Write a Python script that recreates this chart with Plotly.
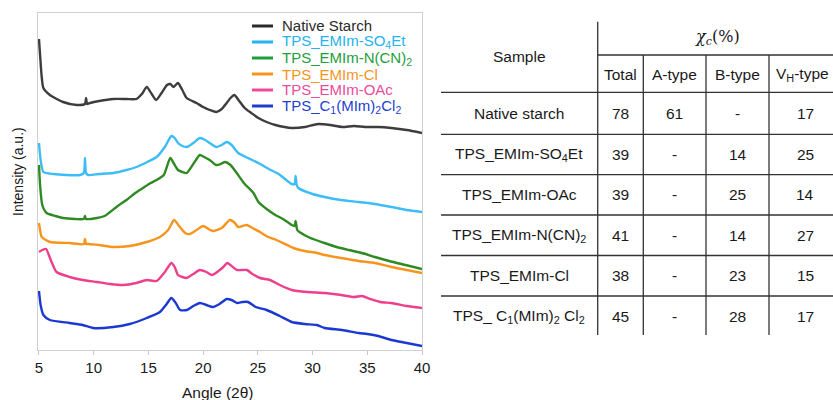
import plotly.graph_objects as go

W, H = 833, 400

# ---------------- XRD data (angle 2θ, intensity a.u. with vertical offsets) ----------------
ns_x = [5.0, 5.1, 5.25, 5.4, 6.0, 7.2, 8.45, 9.2, 9.3, 9.4, 9.66, 10.5, 11.8, 13.0, 13.9, 14.4, 14.85, 15.3, 15.7, 16.2,
        16.7, 17.0, 17.3, 17.7, 18.1, 18.5, 19.4, 20.0, 20.6, 21.2, 21.7, 22.15, 22.5, 22.85, 23.3, 23.8, 24.4, 25.05,
        25.8, 26.6, 28.1, 29.3, 30.5, 31.6, 32.7, 33.8, 34.8, 36.0, 37.2, 38.6, 40.0]
ns_y = [311, 295, 273, 262, 255, 248, 245, 246, 252, 246, 247, 249, 251, 251, 251, 256, 263, 256, 250, 257,
        265, 266, 263, 267, 260, 252, 247, 243, 240, 238, 241, 247, 252, 255, 249, 242, 237, 232,
        228, 225, 222, 223, 226, 225, 223, 224, 223, 223, 222, 220, 217]

so4_x = [5.0, 5.15, 5.4, 6.3, 7.5, 8.75, 9.1, 9.2, 9.3, 9.5, 10.5, 11.8, 13.0, 13.9, 14.9, 15.75, 16.5, 17.1, 17.4,
         17.7, 18.1, 18.5, 19.1, 19.7, 20.2, 20.6, 21.2, 21.7, 22.15, 22.6, 23.2, 24.1, 25.05, 26.0, 26.9, 28.1,
         28.35, 28.45, 28.55, 28.7, 30.0, 31.1, 32.6, 34.2, 35.7, 37.2, 38.6, 40.0]
so4_y = [207, 190, 178, 176, 175, 175, 177, 192, 177, 175, 176, 177, 180, 183, 188, 193, 203, 214, 212,
         207, 204, 203, 207, 212, 210, 207, 203, 205, 208, 205, 197, 192, 187, 181, 176, 166,
         166, 174, 165, 162, 156, 153, 150, 148, 146, 143, 140, 138]

ncn_x = [5.0, 5.1, 5.3, 5.7, 6.5, 7.2, 8.3, 9.1, 9.2, 9.3, 10.3, 11.0, 11.5, 12.2, 13.0, 13.8, 14.5, 15.2, 15.75,
         16.4, 17.0, 17.3, 17.7, 18.1, 18.5, 19.1, 19.7, 20.1, 20.6, 21.2, 21.6, 22.0, 22.5, 23.0, 23.8, 24.6,
         25.05, 25.8, 26.6, 27.3, 28.1, 28.35, 28.45, 28.6, 28.8, 29.8, 31.1, 32.2, 33.3, 34.5, 35.7, 37.0, 38.5, 40.0]
ncn_y = [185, 165, 145, 137, 134, 132, 131, 131, 134, 131, 132, 134, 138, 144, 150, 157, 162, 167, 170,
         175, 192, 187, 180, 178, 177, 186, 195, 193, 190, 185, 186, 188, 185, 178, 166, 157,
         148, 141, 135, 131, 125, 124, 129, 120, 118, 112, 107, 103, 100, 97, 93, 89, 85, 81]

cl_x = [5.0, 5.1, 5.25, 6.0, 7.8, 9.1, 9.2, 9.3, 9.5, 10.5, 11.8, 13.3, 14.85, 16.05, 16.8, 17.35, 17.8, 18.35,
        18.8, 19.4, 20.0, 20.5, 20.9, 21.7, 22.45, 22.9, 23.2, 23.6, 24.0, 24.5, 25.2, 25.95, 26.7, 28.25, 29.3,
        30.4, 31.1, 32.6, 34.2, 35.7, 37.2, 38.6, 40.0]
cl_y = [127, 120, 113, 108, 107, 106, 111, 106, 106, 105, 103, 104, 108, 113, 120, 130, 124, 117,
        116, 120, 124, 121, 119, 122, 130, 127, 123, 124, 125, 122, 118, 113, 110, 102, 99,
        97, 95, 92, 89, 87, 83, 80, 77]

oac_x = [5.0, 5.3, 5.65, 5.9, 6.15, 6.6, 7.8, 9.0, 10.3, 11.5, 12.7, 13.9, 14.85, 15.75, 16.5, 17.1, 17.4, 17.7,
         18.1, 18.5, 19.1, 19.7, 20.3, 20.8, 21.4, 21.85, 22.2, 22.6, 23.1, 24.0, 24.5, 25.2, 26.1, 27.0, 28.1,
         29.5, 31.1, 32.6, 33.8, 34.5, 35.3, 36.2, 37.2, 38.6, 40.0]
oac_y = [98, 100, 101, 95, 88, 78, 73, 70, 68, 66, 65, 67, 70, 69, 78, 87, 83, 75,
         73, 72, 76, 80, 78, 75, 79, 83, 87, 84, 80, 80, 76, 72, 70, 65, 60,
         58, 57, 55, 53, 54, 51, 48, 47, 44, 42]

c1_x = [5.0, 5.15, 5.4, 6.0, 7.8, 9.0, 9.95, 11.8, 13.3, 14.85, 16.05, 16.6, 17.1, 17.5, 17.9, 18.5, 19.1, 19.7,
        20.3, 20.9, 21.5, 22.15, 22.6, 23.1, 23.6, 24.1, 24.8, 25.8, 27.0, 28.1, 29.3, 30.4, 31.1, 32.7, 34.2,
        35.0, 36.0, 37.2, 38.6, 40.0]
c1_y = [59, 45, 35, 30, 27, 25, 22, 23, 26, 32, 38, 45, 52, 47, 40, 40, 44, 47,
        45, 43, 46, 51, 50, 47, 48, 48, 43, 40, 34, 28, 26, 25, 22, 20, 17,
        16, 14, 10, 7, 4]

series_names = ["Native Starch", "TPS_EMIm-SO<sub>4</sub>Et", "TPS_EMIm-N(CN)<sub>2</sub>",
                "TPS_EMIm-Cl", "TPS_EMIm-OAc", "TPS_C<sub>1</sub>(MIm)<sub>2</sub>Cl<sub>2</sub>"]
series_x = [ns_x, so4_x, ncn_x, cl_x, oac_x, c1_x]
series_y = [ns_y, so4_y, ncn_y, cl_y, oac_y, c1_y]
line_colors = ["#3d3d3d", "#3dbdf5", "#2e8a22", "#f7941d", "#ee3f8c", "#1c38d2"]
legend_colors = ["#2a2a2a", "#25b2f0", "#1e9e3c", "#f7941d", "#ec4a9c", "#1c3fd0"]

x_ticks = [5, 10, 15, 20, 25, 30, 35, 40]

# ---------------- Table data ----------------
samples = ["Native starch", "TPS_EMIm-SO<sub>4</sub>Et", "TPS_EMIm-OAc", "TPS_EMIm-N(CN)<sub>2</sub>",
           "TPS_EMIm-Cl", "TPS_ C<sub>1</sub>(MIm)<sub>2</sub> Cl<sub>2</sub>"]
total = ["78", "39", "39", "41", "38", "45"]
a_type = ["61", "-", "-", "-", "-", "-"]
b_type = ["-", "14", "25", "14", "23", "28"]
vh_type = ["17", "25", "14", "27", "15", "17"]
col_headers = ["Total", "A-type", "B-type", "V<sub>H</sub>-type"]


def px(x):
    return x / W


def py(y):
    return 1 - y / H


def label(fig, x, y, text, size=15.5, color="#1a1a1a", family=None, xanchor="center", angle=0):
    f = dict(size=size, color=color)
    if family:
        f["family"] = family
    fig.add_annotation(x=px(x), y=py(y), xref="paper", yref="paper", text=text, showarrow=False,
                       xanchor=xanchor, yanchor="middle", font=f, textangle=angle)


fig = go.Figure()
for name, xs, ys, c in zip(series_names, series_x, series_y, line_colors):
    fig.add_trace(go.Scatter(x=xs, y=ys, mode="lines", name=name,
                             line=dict(color=c, width=2.4, shape="spline", smoothing=0.6),
                             showlegend=False))

FONT = "Liberation Sans, Arial, Helvetica, sans-serif"
fig.update_layout(
    width=W, height=H, margin=dict(l=0, r=0, t=0, b=0),
    paper_bgcolor="white", plot_bgcolor="white",
    font=dict(family=FONT, size=15, color="#1a1a1a"),
    xaxis=dict(domain=[px(38), px(422)], range=[4.91, 40.0], tickvals=x_ticks,
               ticks="outside", ticklen=4, tickcolor="#c8c8c8", showgrid=False,
               showline=True, linecolor="#cfcfcf", linewidth=1, mirror=True,
               zeroline=False, tickfont=dict(size=15, color="#1a1a1a"), automargin=False),
    yaxis=dict(domain=[py(350), py(13)], range=[0, 337], showticklabels=False, ticks="",
               showgrid=False, showline=True, linecolor="#cfcfcf", linewidth=1, mirror=True,
               zeroline=False, automargin=False),
)

# axis titles
label(fig, 218, 392, "Angle (2θ)", size=15.5)
label(fig, 18, 172, "Intensity (a.u.)", size=14, angle=-90)

# legend (drawn manually)
for i, (name, c) in enumerate(zip(series_names, legend_colors)):
    yy = 26 + 16 * i
    fig.add_shape(type="line", xref="paper", yref="paper", x0=px(252), x1=px(273), y0=py(yy), y1=py(yy),
                  line=dict(color=c, width=3))
    label(fig, 280, yy, name, size=15, color=c, xanchor="left")

# ---------------- Table ----------------
LC = "#333333"
LW = 1.3
right = W
row_lines = [92.3, 134.3, 174.6, 215.0, 255.5, 296.0]
col_lines = [643.3, 706.0, 769.0]
fig.add_shape(type="line", xref="paper", yref="paper", x0=px(597.7), x1=px(597.7), y0=py(21.7), y1=py(335),
              line=dict(color=LC, width=LW))
for cx in col_lines:
    fig.add_shape(type="line", xref="paper", yref="paper", x0=px(cx), x1=px(cx), y0=py(55), y1=py(335),
                  line=dict(color=LC, width=LW))
fig.add_shape(type="line", xref="paper", yref="paper", x0=px(597.7), x1=px(right), y0=py(55), y1=py(55),
              line=dict(color=LC, width=LW))
for ry in row_lines:
    fig.add_shape(type="line", xref="paper", yref="paper", x0=px(441), x1=px(right), y0=py(ry), y1=py(ry),
                  line=dict(color=LC, width=LW))

label(fig, 519, 57, "Sample")
label(fig, 717, 37, "<i>χ<sub>c</sub></i>(%)", size=16, family="DejaVu Serif, serif")
col_centers = [620.7, 674.5, 737.5, 802.0]
for cx, htxt in zip(col_centers, col_headers):
    label(fig, cx, 74, htxt)

val_centers = [620.7, 674.5, 737.5, 805.0]
for i, s in enumerate(samples):
    yy = 114 + 40.4 * i
    label(fig, 519, yy, s)
    for cx, v in zip(val_centers, [total[i], a_type[i], b_type[i], vh_type[i]]):
        label(fig, cx, yy, v)

fig.write_html("out.html")
